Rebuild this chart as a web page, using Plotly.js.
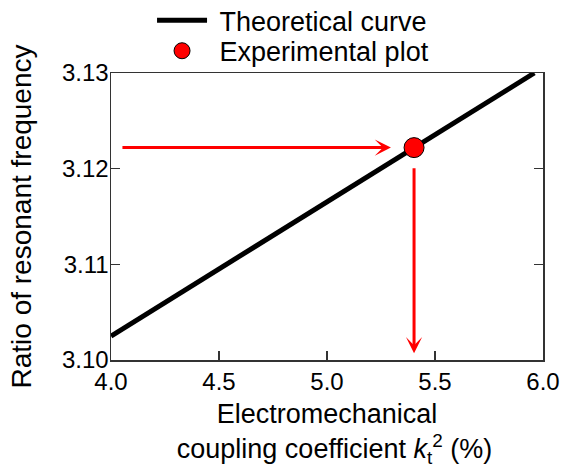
<!DOCTYPE html>
<html>
<head>
<meta charset="utf-8">
<script src="https://cdn.plot.ly/plotly-3.0.1.min.js"></script>
<style>html,body{margin:0;padding:0;background:#fff;}#chart{width:570px;height:468px;}</style>
</head>
<body>
<div id="chart"></div>
<script>
// Data
const curveX = [4.0, 4.5, 5.0, 5.5, 5.96];
const curveY = [3.1025, 3.1095, 3.1165, 3.1236, 3.1300];
const expX = [5.403];
const expY = [3.1222];
// Guide arrows: [tailX, tailY, headX, headY]
const arrowH = [4.046, 3.1222, 5.296, 3.1222];
const arrowV = [5.403, 3.1202, 5.403, 3.1007];
const xTicks = [4.0, 4.5, 5.0, 5.5, 6.0];
const xTickText = ['4.0', '4.5', '5.0', '5.5', '6.0'];
const yTicks = [3.10, 3.11, 3.12, 3.13];
const yTickText = ['3.10', '3.11', '3.12', '3.13'];

const FONT = 'Liberation Sans, Arial, sans-serif';
const NB = '\u00a0';

const traces = [
  {
    x: curveX, y: curveY, type: 'scatter', mode: 'lines',
    name: NB + 'Theoretical curve', legend: 'legend',
    line: {color: '#000000', width: 5}
  },
  {
    x: expX, y: expY, type: 'scatter', mode: 'markers',
    name: NB + 'Experimental plot', legend: 'legend2',
    marker: {color: '#ff0000', size: 20, line: {color: '#000000', width: 1}}
  }
];

function arrow(a) {
  return {
    x: a[2], y: a[3], ax: a[0], ay: a[1],
    xref: 'x', yref: 'y', axref: 'x', ayref: 'y',
    text: '', showarrow: true, arrowhead: 3, arrowsize: 0.9,
    arrowwidth: 3, arrowcolor: '#ff0000', standoff: 0, startstandoff: 0
  };
}

const axisCommon = {
  showline: true, linecolor: '#333333', linewidth: 1.5, mirror: true,
  showgrid: false, zeroline: false,
  ticks: 'inside', ticklen: 9, tickwidth: 1.5, tickcolor: '#333333',
  tickfont: {family: FONT, size: 24, color: '#000000'}
};

const legendCommon = {
  xanchor: 'left', yanchor: 'middle',
  font: {family: FONT, size: 27, color: '#000000'},
  bgcolor: 'rgba(0,0,0,0)', itemwidth: 50
};

const layout = {
  width: 570, height: 468,
  margin: {l: 111, r: 27, t: 73, b: 108, autoexpand: false},
  paper_bgcolor: '#ffffff', plot_bgcolor: '#ffffff',
  font: {family: FONT, color: '#000000'},
  showlegend: true,
  legend: Object.assign({}, legendCommon, {x: 0.095, y: 1.182}),
  legend2: Object.assign({}, legendCommon, {x: 0.095, y: 1.076}),
  xaxis: Object.assign({}, axisCommon, {
    range: [4.0, 6.0], tickvals: xTicks, ticktext: xTickText,
    mirror: true,
    title: {
      text: NB + NB + 'Electromechanical<br>' + NB + NB + 'coupling coefficient <i>k</i><sub>t</sub><sup>2</sup> (%)',
      font: {family: FONT, size: 27, color: '#000000'}, standoff: 14
    }
  }),
  yaxis: Object.assign({}, axisCommon, {
    range: [3.10, 3.13], tickvals: yTicks, ticktext: yTickText,
    mirror: 'ticks', ticklabelstandoff: -4,
    title: {
      text: 'Ratio of resonant frequency',
      font: {family: FONT, size: 28, color: '#000000'}, standoff: 22
    }
  }),
  annotations: [arrow(arrowH), arrow(arrowV)]
};

Plotly.newPlot('chart', traces, layout, {displayModeBar: false, staticPlot: true});
</script>
</body>
</html>
